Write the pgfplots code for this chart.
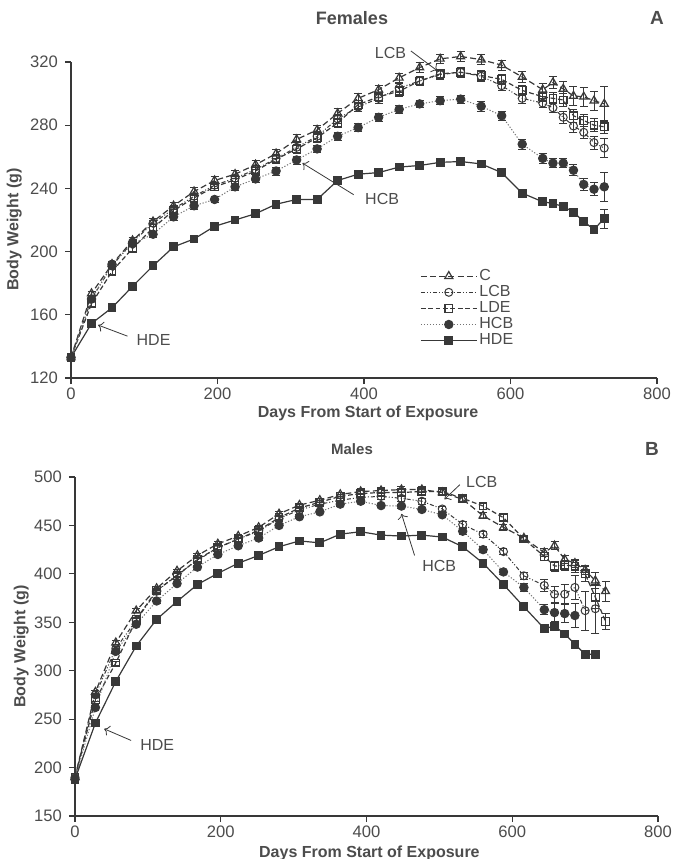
\documentclass[border=0pt]{standalone}
\usepackage{fontspec}
\setmainfont{Liberation Sans}
\usepackage{pgfplots}
\usepackage{pgfplotstable}
\pgfplotsset{compat=1.18}
\usetikzlibrary{arrows.meta}

% females: day, weight, sem
\pgfplotstableread{
d w e
0 133 0
28 173.5 1.5
56 192 2
84 207 2
112 219 2
140 229 2
168 238 2.5
196 245 2.5
224 249 2.5
252 255 3
280 262 3
308 271 3
336 277 3
364 287.5 3
392 297 3
420 302.5 3
448 310 3
476 316.5 3
504 322 3
532 323.5 3
560 321.5 3
588 318 3
616 310.5 3.5
644 302.5 4
658 307 4
672 303 5
686 298.5 6
700 298 6
714 295.5 6
728 293.5 11
}\CF
\pgfplotstableread{
d w e
0 133 0
28 170 1.5
56 191 2
84 206 2
112 218 2
140 227 2
168 235 2
196 242 2
224 246.5 2
252 252 2.5
280 259 2.5
308 266 3
336 273 3
364 284 3
392 291.5 3
420 297 3
448 303.5 3
476 308 3
504 312 3
532 313.5 3
560 311 3
588 305 3
616 297 3
644 294 3
658 291 3
672 285 4
686 279.5 4
700 275.5 4
714 269 4
728 265.5 6
}\LCBF
\pgfplotstableread{
d w e
0 133 0
28 167 1.5
56 187.5 2
84 202 2
112 215 2
140 226 2
168 234 2
196 241 2
224 245.5 2.5
252 251 2.5
280 258.5 2.5
308 265 3
336 272 3
364 281.5 3
392 293 3
420 298 3
448 301.5 3
476 308 3
504 312.5 3
532 313.5 3
560 311.5 3
588 309 3
616 302 3
644 298 3
658 297 3.5
672 296 4
686 286 4
700 283 4
714 280 4
728 279 4
}\LDEF
\pgfplotstableread{
d w e
0 133 0
28 170 1.5
56 192 2
84 205 2
112 211 2
140 222 2
168 229 2
196 233 2
224 241 2
252 246 2
280 251 2.5
308 258 2.5
336 265 2.5
364 273 2.5
392 278.5 2.5
420 285 2.5
448 290 2.5
476 293.5 2.5
504 295.5 2.5
532 296.5 2.5
560 292 3
588 286 3
616 268 3
644 259 3
658 256 3
672 256 3
686 251.5 3.5
700 242.5 4
714 239.5 4
728 241 9
}\HCBF
\pgfplotstableread{
d w e
0 133 0
28 154.5 1
56 164.5 1
84 178 1
112 191 1
140 203 1
168 208 1
196 216 1
224 220 1
252 224 1
280 230 1
308 233 1
336 233 1
364 245 1
392 249 1
420 250 1
448 253.5 1
476 254.5 1
504 256.5 1
532 257 1
560 255.5 1
588 250 1.5
616 237 1.5
644 231.5 2
658 230.5 2
672 228.5 2
686 225 2
700 219 2
714 214 2
728 221 6
}\HDEF

% males
\pgfplotstableread{
d w e
0 190 0
28 278 2
56 329 2
84 362 2
112 385 2
140 403 2
168 419 2
196 431 2
224 439 2
252 448 2
280 462 2
308 471 2
336 476 2
364 482 2
392 485 3
420 486 3
448 487 3
476 487 3
504 484 3
532 477 3
560 460 3
588 448 3
616 437 3
644 422 4
658 429 4
672 415 4
686 411 4
700 404 5
714 393 8
728 382 10
}\CM
\pgfplotstableread{
d w e
0 190 0
28 275 2
56 323 2
84 352 2
112 382 2
140 399 2
168 414 2
196 427 2
224 436 2
252 444 2
280 457 2
308 466 2
336 472 2
364 476 2
392 479 3
420 480 3
448 478 3
476 475 3
504 467 3
532 451 3
560 441 3
588 423 3
616 398 4
644 388 6
658 379 8
672 379 10
686 386 12
700 362 20
714 364 25
}\LCBM
\pgfplotstableread{
d w e
0 190 0
28 270 2
56 308 2
84 353 2
112 383 2
140 398 2
168 415 2
196 427 2
224 436 2
252 445 2
280 458 2
308 468 2
336 474 2
364 480 2
392 483 3
420 484 3
448 484 3
476 485 3
504 485 3
532 478 3
560 470 3
588 458 3
616 436 3
644 418 4
658 408 5
672 409 5
686 408 6
700 400 8
714 376 12
728 351 8
}\LDEM
\pgfplotstableread{
d w e
0 188 0
28 262 2
56 320 2
84 348 2
112 372 2
140 390 2
168 407 2
196 420 2
224 429 2
252 437 2
280 450 2
308 459 2
336 464 2
364 472 2
392 475 2
420 470.5 2
448 470 2
476 466.5 2
504 461 2
532 444 3
560 425 3
588 402 3
616 386 4
644 363 5
658 360 9
672 359 9
686 357 12
}\HCBM
\pgfplotstableread{
d w e
0 188 0
28 246 2
56 289 2
84 325.5 2
112 353 2
140 371.5 2
168 389 2
196 400.5 2
224 411 2
252 419 2
280 428 2
308 434 2
336 432 2
364 441 2
392 443.5 2
420 440 2
448 439 2
476 440 2
504 438 2
532 428 2
560 411 2
588 389 3
616 366 3
644 343.5 3
658 346 4
672 338 4
686 327.5 4
700 317 4
714 317 4
}\HDEM

\definecolor{ink}{gray}{0.22}
\definecolor{txt}{gray}{0.3}

\pgfplotsset{
  panel/.style={
    scale only axis,
    axis lines=left,
    axis line style={-, ink, line width=0.6pt},
    tick style={ink, line width=0.6pt},
    tick align=outside,
    major tick length=3pt,
    xmin=0, xmax=800,
    xtick={0,200,...,800},
    clip=false,
    font=\fontsize{8}{9.5}\selectfont,
    ticklabel style={txt, font=\fontsize{8.3}{9.5}\selectfont},
    xticklabel style={yshift=1.5pt},
    /pgf/number format/assume math mode=true,
    /pgf/number format/1000 sep={},
    label style={txt, font=\bfseries\fontsize{8}{9.5}\selectfont},
    xlabel={Days From Start of Exposure},
    ylabel={Body Weight (g)},
    error bars/y dir=both,
    error bars/y explicit,
    error bars/error bar style={ink, line width=0.4pt, solid},
    error bars/error mark options={rotate=90, mark size=2pt, ink, line width=0.4pt, solid},
    mark size=2pt,
  },
  sC/.style={ink, line width=0.6pt, dash pattern=on 3pt off 1.6pt, mark=triangle, mark options={solid, fill=white, mark size=2.3pt}},
  sLCB/.style={ink, line width=0.5pt, dash pattern=on 2pt off 1pt on 0.5pt off 1pt on 0.5pt off 1pt, mark=o, mark options={solid, fill=white}},
  sLDE/.style={ink, line width=0.6pt, dash pattern=on 2.4pt off 1.3pt, mark=square, mark options={solid, fill=white, mark size=1.9pt}},
  sHCB/.style={black!55, line width=0.5pt, dash pattern=on 0.6pt off 0.9pt, mark=*, mark options={solid, ink, fill=ink, mark size=2.1pt}},
  sHDE/.style={ink, line width=0.6pt, solid, mark=square*, mark options={solid, ink, fill=ink, mark size=1.9pt}},
}

\begin{document}
\begin{tikzpicture}
\path[use as bounding box] (0,0) rectangle (336.5pt,429.5pt);

% ---------- A: females
\begin{axis}[panel,
  at={(35.5pt,240.5pt)}, anchor=south west,
  width=293pt, height=158pt,
  ymin=120, ymax=320, ytick={120,160,...,320},
  xlabel style={at={(axis description cs:0.507,-0.112)}, anchor=center},
  ylabel style={at={(axis description cs:-0.097,0.47)}, anchor=center},
  legend style={at={(axis cs:468,193)}, anchor=north west, draw=none, fill=none,
    font=\fontsize{8}{9}\selectfont, text=txt, row sep=-1pt,
    nodes={inner sep=1pt}},
  legend cell align=left,
  legend image code/.code={\draw[mark repeat=2,mark phase=2,#1] plot coordinates {(0pt,0pt) (14pt,0pt) (28pt,0pt)};},
]
\addplot[sC] table[x=d,y=w,y error=e] {\CF};
\addlegendentry{C}
\addplot[sLCB] table[x=d,y=w,y error=e] {\LCBF};
\addlegendentry{LCB}
\addplot[sLDE] table[x=d,y=w,y error=e] {\LDEF};
\addlegendentry{LDE}
\addplot[sHCB] table[x=d,y=w,y error=e] {\HCBF};
\addlegendentry{HCB}
\addplot[sHDE] table[x=d,y=w,y error=e] {\HDEF};
\addlegendentry{HDE}

\node[txt, font=\fontsize{8}{9}\selectfont, anchor=east] at (axis cs:467,326) {LCB};
\draw[ink, line width=0.4pt, -{To[length=2.5pt]}] (axis cs:464,327) -- (axis cs:500,314.5);
\node[txt, font=\fontsize{8}{9}\selectfont, anchor=west] at (axis cs:392,233) {HCB};
\draw[ink, line width=0.4pt, -{To[length=2.5pt]}] (axis cs:386,236) -- (axis cs:316,256);
\node[txt, font=\fontsize{8}{9}\selectfont, anchor=west] at (axis cs:80,144) {HDE};
\draw[ink, line width=0.4pt, -{To[length=2.5pt]}] (axis cs:77,146.5) -- (axis cs:37,153.5);
\end{axis}

% ---------- B: males
\begin{axis}[panel,
  at={(37.5pt,21.5pt)}, anchor=south west,
  width=291.5pt, height=169.5pt,
  ymin=150, ymax=500, ytick={150,200,...,500},
  xlabel style={at={(axis description cs:0.505,-0.11)}, anchor=center},
  ylabel style={at={(axis description cs:-0.092,0.5)}, anchor=center},
]
\addplot[sC] table[x=d,y=w,y error=e] {\CM};
\addplot[sLCB] table[x=d,y=w,y error=e] {\LCBM};
\addplot[sLDE] table[x=d,y=w,y error=e] {\LDEM};
\addplot[sHCB] table[x=d,y=w,y error=e] {\HCBM};
\addplot[sHDE] table[x=d,y=w,y error=e] {\HDEM};

\node[txt, font=\fontsize{8}{9}\selectfont, anchor=west] at (axis cs:527,495) {LCB};
\draw[ink, line width=0.4pt, -{To[length=2.5pt]}] (axis cs:528,492) -- (axis cs:507,477);
\node[txt, font=\fontsize{8}{9}\selectfont, anchor=west] at (axis cs:467,408) {HCB};
\draw[ink, line width=0.4pt, -{To[length=2.5pt]}] (axis cs:466,419) -- (axis cs:448,462);
\node[txt, font=\fontsize{8}{9}\selectfont, anchor=west] at (axis cs:80,223) {HDE};
\draw[ink, line width=0.4pt, -{To[length=2.5pt]}] (axis cs:77,228) -- (axis cs:40,240);
\end{axis}

\node[txt, font=\bfseries\fontsize{9}{10}\selectfont] at (176pt,420.5pt) {Females};
\node[txt, font=\bfseries\fontsize{9.5}{10}\selectfont] at (328.5pt,420.5pt) {A};
\node[txt, font=\bfseries\fontsize{7.5}{9}\selectfont] at (176pt,205pt) {Males};
\node[txt, font=\bfseries\fontsize{9.5}{10}\selectfont] at (326pt,205pt) {B};
\end{tikzpicture}
\end{document}
